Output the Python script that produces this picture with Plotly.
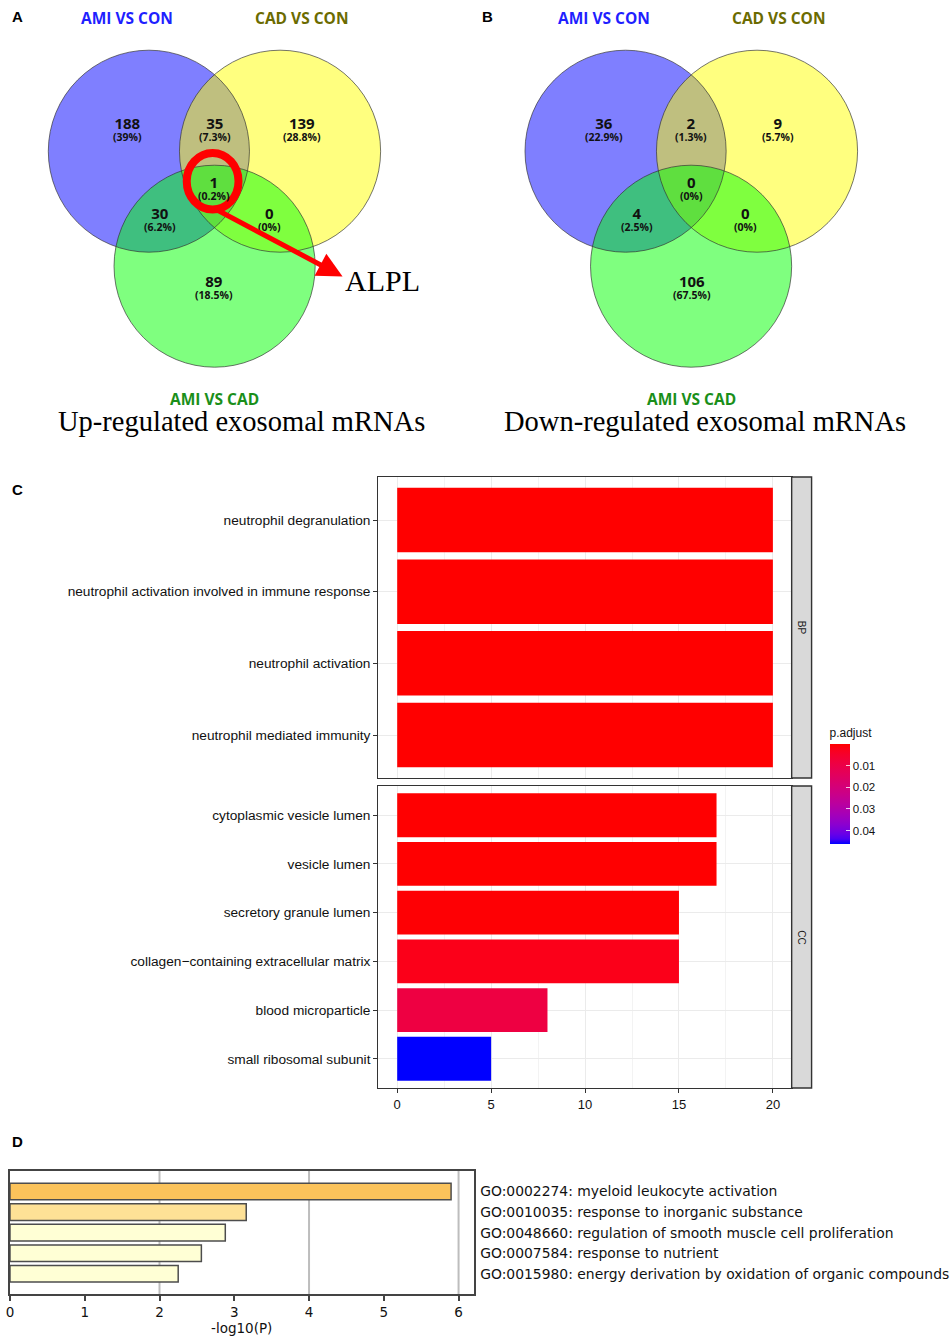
import numpy as np
import plotly.graph_objects as go

W, H = 950, 1339

# ---------------- data ----------------
venn_set_names = ["AMI VS CON", "CAD VS CON", "AMI VS CAD"]
# region order: AMI only, AMI&CAD(CON), CAD only, all three, AMI&AMIvsCAD, CAD&AMIvsCAD, AMIvsCAD only
up_counts = [188, 35, 139, 1, 30, 0, 89]
down_counts = [36, 2, 9, 0, 4, 0, 106]
up_title = "Up-regulated exosomal mRNAs"
down_title = "Down-regulated exosomal mRNAs"
highlight_gene = "ALPL"

bp_terms = ["neutrophil degranulation",
            "neutrophil activation involved in immune response",
            "neutrophil activation",
            "neutrophil mediated immunity"]
bp_counts = [20, 20, 20, 20]
bp_padj = [2.1e-6, 2.1e-6, 2.1e-6, 2.3e-6]

cc_terms = ["cytoplasmic vesicle lumen",
            "vesicle lumen",
            "secretory granule lumen",
            "collagen\u2212containing extracellular matrix",
            "blood microparticle",
            "small ribosomal subunit"]
cc_counts = [17, 17, 15, 15, 8, 5]
cc_padj = [1.2e-4, 1.2e-4, 3.5e-4, 0.0022, 0.0089, 0.0463]
padj_ticks = [0.01, 0.02, 0.03, 0.04]
facet_names = ["BP", "CC"]

go_ids = ["GO:0002274", "GO:0010035", "GO:0048660", "GO:0007584", "GO:0015980"]
go_names = ["myeloid leukocyte activation",
            "response to inorganic substance",
            "regulation of smooth muscle cell proliferation",
            "response to nutrient",
            "energy derivation by oxidation of organic compounds"]
go_logp = [5.9, 3.16, 2.88, 2.56, 2.25]
go_ticks = [0, 1, 2, 3, 4, 5, 6]

# ---------------- styles / layout helpers ----------------
D_COLORS = ["#FBC35B", "#FEE196", "#FFFFD5", "#FFFFD5", "#FFFFD5"]
SET_FILL = ["rgba(0,0,255,0.5)", "rgba(255,255,0,0.5)", "rgba(0,255,0,0.5)"]
SET_TXT = ["#1F1FFF", "#6B6B00", "#1A8F1A"]

M = np.array([[0.4124564, 0.3575761, 0.1804375],
              [0.2126729, 0.7151522, 0.0721750],
              [0.0193339, 0.1191920, 0.9503041]])
WHITE = np.array([0.95047, 1.0, 1.08883])


def srgb2lab(rgb):
    c = np.array(rgb, float) / 255
    lin = np.where(c <= 0.04045, c / 12.92, ((c + 0.055) / 1.055) ** 2.4)
    xyz = M @ lin / WHITE
    f = np.where(xyz > 216 / 24389, np.cbrt(xyz), (24389 / 27 * xyz + 16) / 116)
    return np.array([116 * f[1] - 16, 500 * (f[0] - f[1]), 200 * (f[1] - f[2])])


def lab2srgb(lab):
    L, a, b = lab
    fy = (L + 16) / 116
    f = np.array([fy + a / 500, fy, fy - b / 200])
    xyz = np.where(f ** 3 > 216 / 24389, f ** 3, (116 * f - 16) / (24389 / 27)) * WHITE
    lin = np.clip(np.linalg.inv(M) @ xyz, 0, 1)
    c = np.where(lin <= 0.0031308, 12.92 * lin, 1.055 * lin ** (1 / 2.4) - 0.055)
    r, g, bb = (int(round(v)) for v in np.clip(c, 0, 1) * 255)
    return f"rgb({r},{g},{bb})"


lab_blue = srgb2lab((0, 0, 255))
lab_red = srgb2lab((255, 0, 0))
colorscale = [[float(t), lab2srgb(lab_blue + t * (lab_red - lab_blue))]
              for t in np.linspace(0, 1, 21)]


def px_x(v):
    return v / W


def px_y(v):
    return 1 - v / H


fig = go.Figure()

# pixel overlay axis
fig.add_trace(go.Scatter(x=[], y=[], xaxis="x", yaxis="y", showlegend=False, hoverinfo="skip"))

shapes = []
annotations = []


def txt(x, y, text, size, color="#000", family="Open Sans", **kw):
    d = dict(x=x, y=y, xref="x", yref="y", text=text, showarrow=False,
             font=dict(size=size, color=color, family=family))
    d.update(kw)
    annotations.append(d)


# ---------------- Venn panels ----------------
venn_geo = [
    dict(counts=up_counts, title=up_title,
         centers=[(145.5, 151.2), (277.2, 151.2), (211.5, 266.2)],
         labels=[(123.7, 124), (211.7, 124), (299.3, 124), (210.7, 183),
                 (156.7, 214), (266.7, 214), (211.3, 282)],
         set_pos=[(123.3, 18.3), (299.3, 18.3), (211.7, 398.5)],
         sub=(238.5, 421.5)),
    dict(counts=down_counts, title=down_title,
         centers=[(624.2, 151.2), (756.2, 151.2), (690.0, 266.2)],
         labels=[(602.7, 124), (690.0, 124), (777.7, 124), (690.3, 183),
                 (635.3, 214), (745.0, 214), (690.7, 282)],
         set_pos=[(602.3, 18.3), (778.3, 18.3), (690.7, 398.5)],
         sub=(704.3, 421.5)),
]
R = 101
for g in venn_geo:
    for (cx, cy), fc in zip(g["centers"], SET_FILL):
        shapes.append(dict(type="circle", xref="x", yref="y", x0=cx - R, x1=cx + R,
                           y0=cy - R, y1=cy + R, fillcolor=fc, line=dict(width=0)))
    for (cx, cy) in g["centers"]:
        shapes.append(dict(type="circle", xref="x", yref="y", x0=cx - R, x1=cx + R,
                           y0=cy - R, y1=cy + R, line=dict(color="rgba(50,50,50,0.85)", width=0.8)))
    total = sum(g["counts"])
    for (lx, ly), n in zip(g["labels"], g["counts"]):
        pct = round(100 * n / total, 1)
        label = (f"<span style='font-size:15px'><b>{n}</b></span><br>"
                 f"<span style='font-size:10.5px'><b>({pct:g}%)</b></span>")
        txt(lx, ly + 4.5, label, 9.0, "#111")
    for (sx, sy), name, col in zip(g["set_pos"], venn_set_names, SET_TXT):
        txt(sx, sy, f"<b>{name}</b>", 15.5, col)
    txt(g["sub"][0], g["sub"][1], g["title"], 28.5, "#000", "Liberation Serif")

# red ring + arrow + gene label
shapes.append(dict(type="circle", xref="x", yref="y", x0=183.5, x1=235.5, y0=153, y1=209.5,
                   line=dict(color="#FF0000", width=8)))
annotations.append(dict(x=340, y=276.5, xref="x", yref="y", ax=214, ay=210, axref="x", ayref="y",
                        text="", showarrow=True, arrowhead=2, arrowsize=1.0, arrowwidth=5,
                        arrowcolor="#FF0000", standoff=0, startstandoff=0))
txt(380, 280, highlight_gene, 30, "#000", "Liberation Serif")

# panel letters
for (lx, ly), letter in zip([(14, 16), (486, 16), (14, 489), (14, 1141)], "ABCD"):
    txt(lx, ly, f"<b>{letter}</b>", 15, "#000", "Liberation Sans")

# ---------------- Panel C ----------------
all_p = bp_padj + cc_padj
fig.add_trace(go.Bar(orientation="h", x=bp_counts, y=bp_terms, width=0.9,
                     marker=dict(color=[-p for p in bp_padj], coloraxis="coloraxis", line=dict(width=0)),
                     xaxis="x2", yaxis="y2", showlegend=False))
fig.add_trace(go.Bar(orientation="h", x=cc_counts, y=cc_terms, width=0.9,
                     marker=dict(color=[-p for p in cc_padj], coloraxis="coloraxis", line=dict(width=0)),
                     xaxis="x3", yaxis="y3", showlegend=False))

C_X0, C_X1 = 376, 791
BP_Y0, BP_Y1 = 477, 778
CC_Y0, CC_Y1 = 786, 1088
BORDER = "#333333"

xcommon = dict(range=[-1, 21], tick0=0, dtick=5, showgrid=True, gridcolor="#EBEBEB", gridwidth=1.2,
               minor=dict(tick0=0, dtick=2.5, showgrid=True, gridcolor="#F3F3F3", gridwidth=0.6),
               zeroline=False, showline=True, mirror=True, linecolor=BORDER, linewidth=1.4,
               domain=[px_x(C_X0), px_x(C_X1)], fixedrange=True)
ycommon = dict(type="category", showgrid=True, gridcolor="#EBEBEB", gridwidth=1.2, zeroline=False,
               showline=True, mirror=True, linecolor=BORDER, linewidth=1.4, ticks="outside",
               ticklen=4, tickcolor=BORDER, tickwidth=1,
               tickfont=dict(family="Liberation Sans", size=13.7, color="#111"), fixedrange=True)

for (y0, y1), name in zip([(BP_Y0, BP_Y1), (CC_Y0, CC_Y1)], facet_names):
    shapes.append(dict(type="rect", xref="x", yref="y", x0=C_X1, x1=811, y0=y0, y1=y1,
                       fillcolor="#D9D9D9", line=dict(color=BORDER, width=1.4)))
    txt((C_X1 + 811) / 2, (y0 + y1) / 2, name, 10, "#1A1A1A", "Liberation Sans", textangle=90)

# ---------------- Panel D ----------------
go_labels = [f"{i}: {n}" for i, n in zip(go_ids, go_names)]
fig.add_trace(go.Bar(orientation="h", x=go_logp, y=go_labels, width=0.81,
                     marker=dict(color=D_COLORS, line=dict(color="#4D4D4D", width=1.5)),
                     xaxis="x4", yaxis="y4", showlegend=False))
for v in [2, 4, 6]:
    shapes.append(dict(type="line", xref="x4", yref="y4 domain", x0=v, x1=v, y0=0, y1=1,
                       line=dict(color="#BDBDBD", width=2), layer="below"))

D_X0, D_X1, D_Y0, D_Y1 = 6, 471.5, 1171, 1294.3
DFONT = "DejaVu Sans"

fig.update_layout(
    width=W, height=H, margin=dict(l=0, r=0, t=0, b=0),
    paper_bgcolor="white", plot_bgcolor="rgba(0,0,0,0)", showlegend=False,
    xaxis=dict(domain=[0, 1], range=[0, W], visible=False, fixedrange=True),
    yaxis=dict(domain=[0, 1], range=[H, 0], visible=False, fixedrange=True),
    xaxis2=dict(anchor="y2", showticklabels=False, ticks="", **xcommon),
    yaxis2=dict(anchor="x2", domain=[px_y(BP_Y1), px_y(BP_Y0)], categoryorder="array",
                categoryarray=bp_terms, range=[len(bp_terms) - 0.4, -0.6], **ycommon),
    xaxis3=dict(anchor="y3", showticklabels=True, ticks="outside", ticklen=4, tickcolor=BORDER,
                tickfont=dict(family="Liberation Sans", size=13, color="#111"), **xcommon),
    yaxis3=dict(anchor="x3", domain=[px_y(CC_Y1), px_y(CC_Y0)], categoryorder="array",
                categoryarray=cc_terms, range=[len(cc_terms) - 0.4, -0.6], **ycommon),
    xaxis4=dict(anchor="y4", domain=[px_x(D_X0), px_x(D_X1)], range=[0, 6.2], tickvals=go_ticks,
                ticks="outside", ticklen=5, tickwidth=1.5, tickcolor="#444", showgrid=False,
                zeroline=False, showline=True, mirror=True, linecolor="#444", linewidth=1.8,
                tickfont=dict(family=DFONT, size=13.5, color="#111"),
                title=dict(text="-log10(P)", font=dict(family=DFONT, size=13.5, color="#111"), standoff=4),
                fixedrange=True),
    yaxis4=dict(anchor="x4", domain=[px_y(D_Y1), px_y(D_Y0)], type="category", categoryorder="array",
                categoryarray=go_labels, range=[5, -1], side="right", ticks="", showgrid=False,
                zeroline=False, showline=True, mirror=True, linecolor="#444", linewidth=1.8,
                tickfont=dict(family=DFONT, size=13.9, color="#111"), ticklabelstandoff=2,
                fixedrange=True),
    coloraxis=dict(colorscale=colorscale, cmin=-max(all_p), cmax=0,
                   colorbar=dict(x=px_x(829), xanchor="left", y=px_y(784.7), yanchor="middle",
                                 len=119, lenmode="pixels", thickness=20, thicknessmode="pixels",
                                 xpad=0, ypad=0, outlinewidth=0,
                                 tickvals=[-t for t in padj_ticks], ticktext=[f"{t:g}" for t in padj_ticks],
                                 ticks="inside", ticklen=4, tickcolor="rgba(255,255,255,0.8)",
                                 tickfont=dict(family="Liberation Sans", size=11.5, color="#111"),
                                 title=dict(text="p.adjust", side="top",
                                            font=dict(family="Liberation Sans", size=12, color="#111")))),
    shapes=shapes, annotations=annotations,
)

fig.write_html("out.html", config={"displayModeBar": False},
               post_script="document.body.style.margin='0';document.body.style.padding='0';"
                           "document.documentElement.style.overflow='hidden';")
